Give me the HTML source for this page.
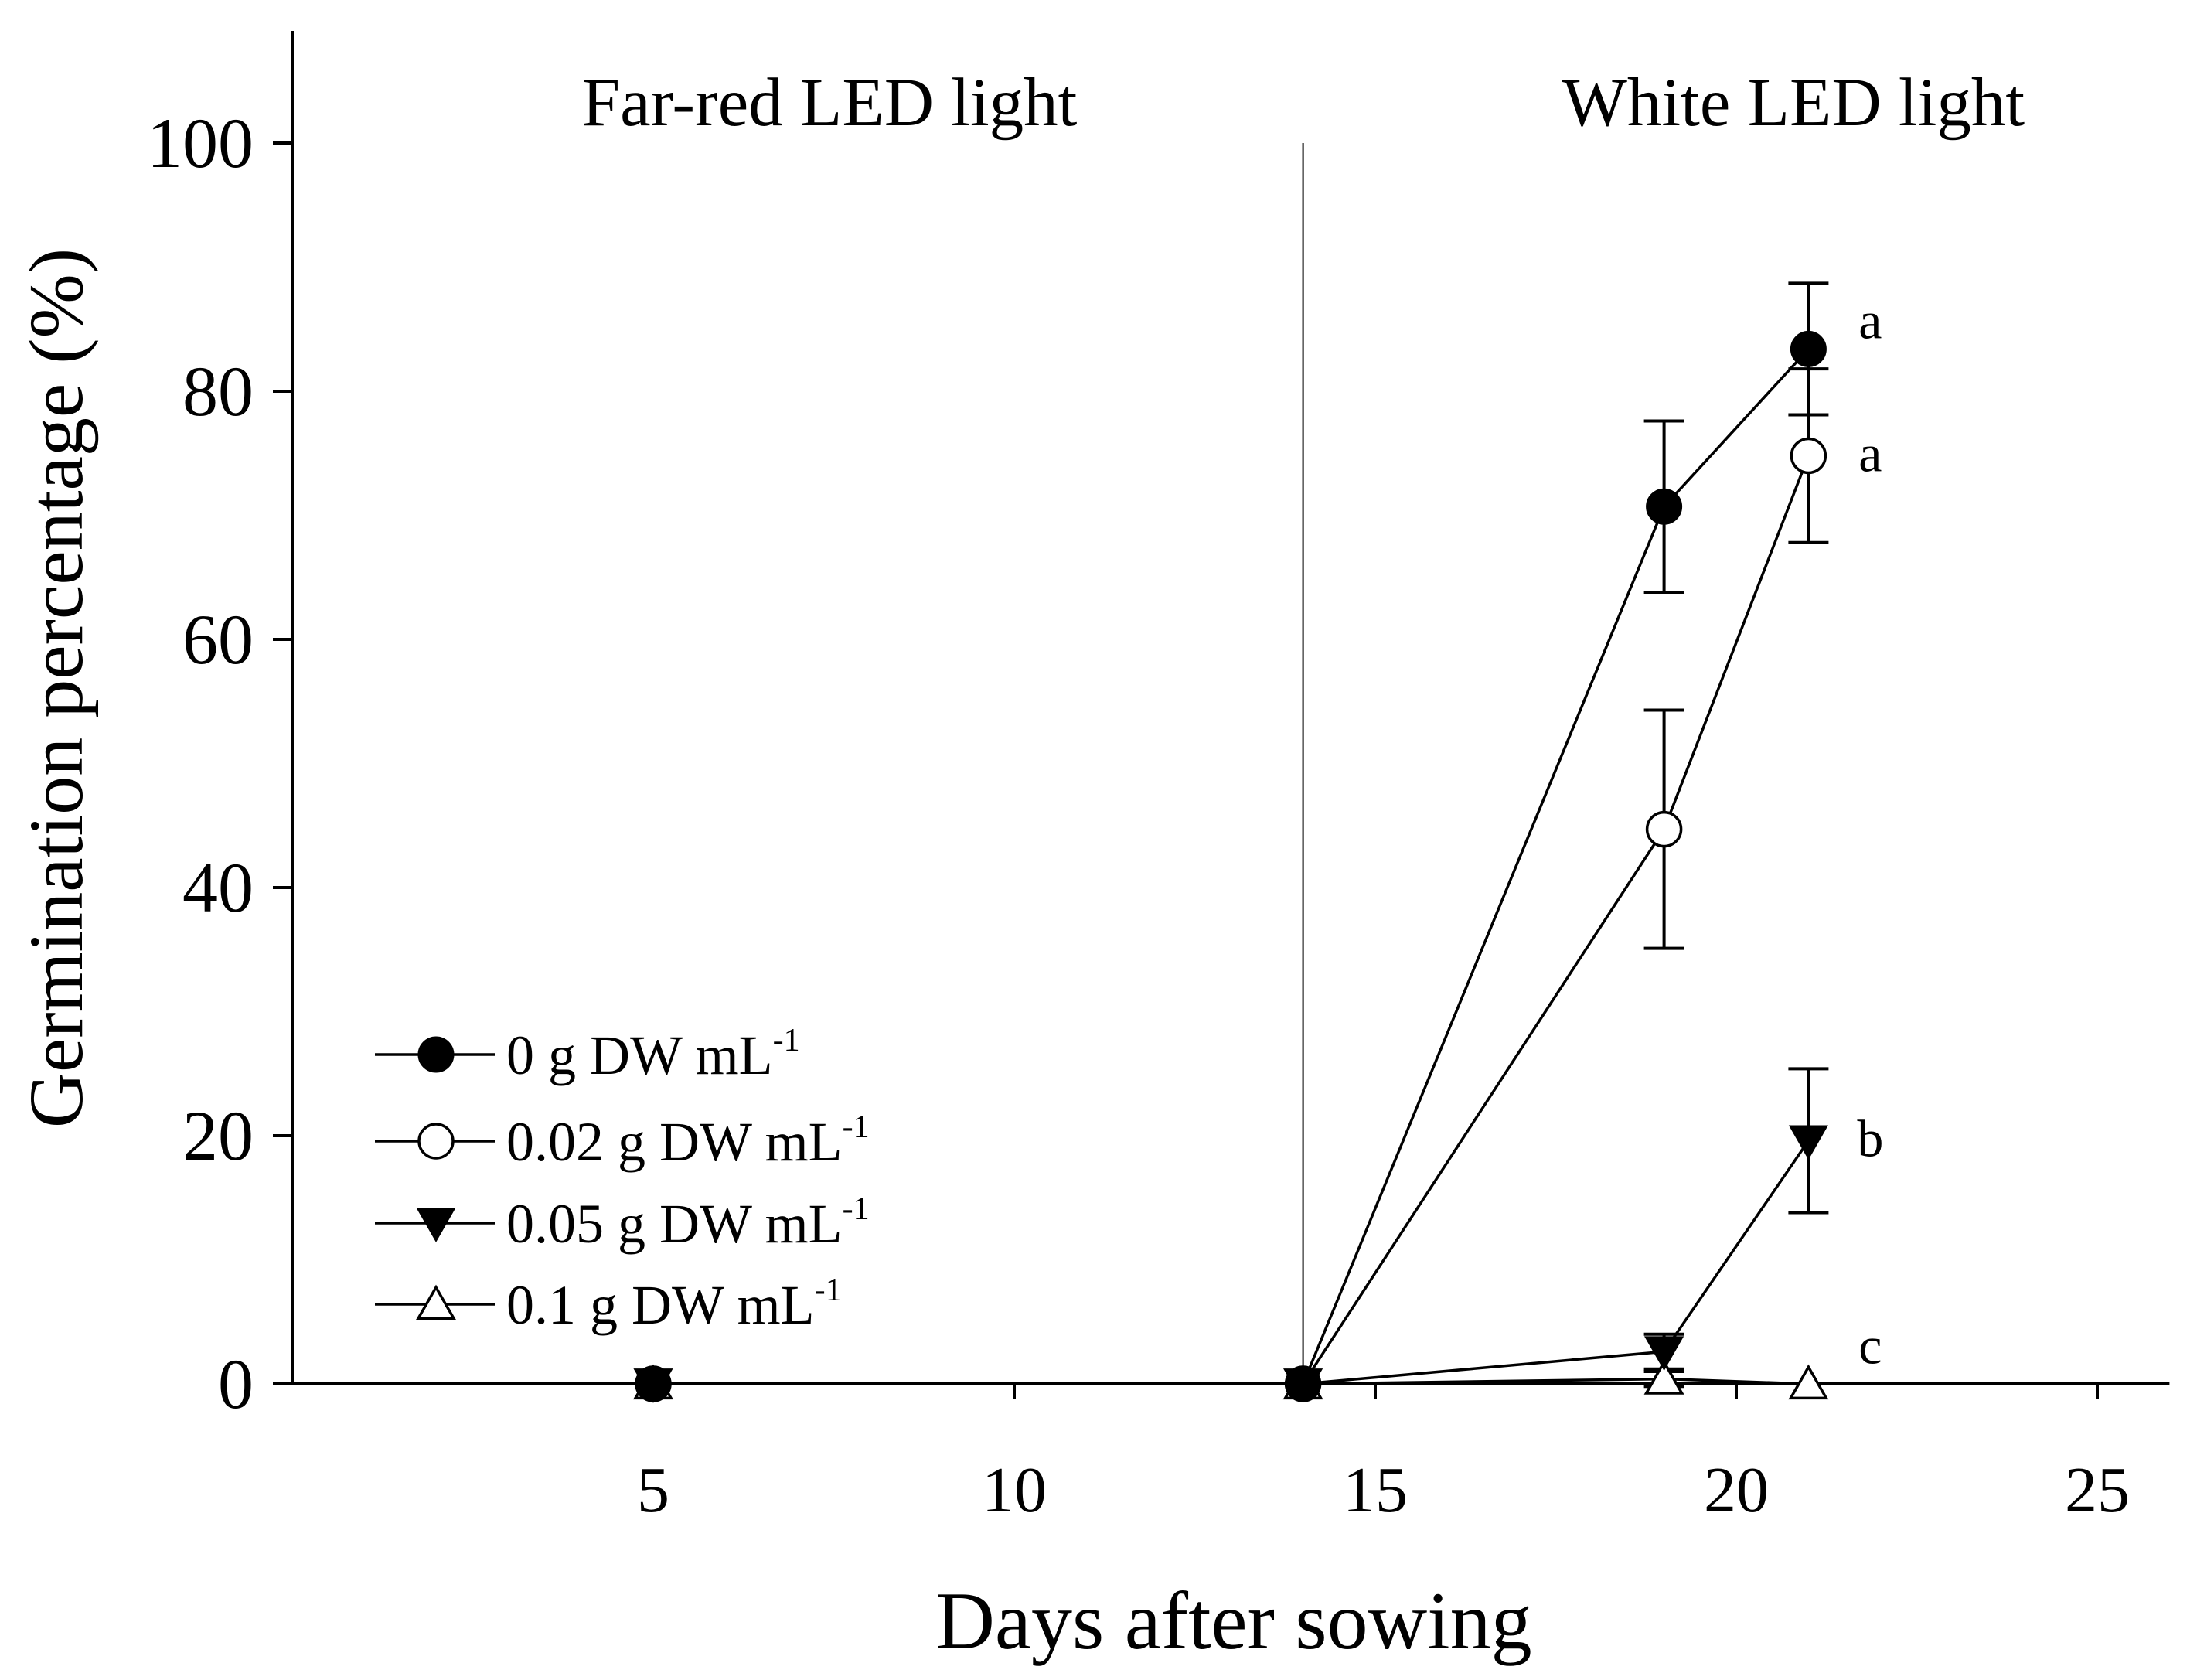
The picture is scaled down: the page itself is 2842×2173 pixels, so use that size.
<!DOCTYPE html>
<html><head><meta charset="utf-8"><style>
html,body{margin:0;padding:0;background:#fff}
svg{display:block}
text{font-family:"Liberation Serif",serif;fill:#000}
</style></head><body>
<svg id="chart" width="2842" height="2173" viewBox="0 0 2842 2173" xmlns="http://www.w3.org/2000/svg">
<g id="axes"></g>
<g id="marks"></g>
<g id="legend"></g>
</svg>
<script>
const days = [5, 14, 19, 21];
const seriesNames = ["0 g DW mL", "0.02 g DW mL", "0.05 g DW mL", "0.1 g DW mL"];
const seriesMarkers = ["filledCircle", "openCircle", "filledTriDown", "openTriUp"];
const s0 = [0, 0, 70.7, 83.4];
const s1 = [0, 0, 44.7, 74.8];
const s2 = [0, 0, 2.6, 19.6];
const s3 = [0, 0, 0.4, 0];
const e0 = [0, 0, 6.9, 5.3];
const e1 = [0, 0, 9.6, 7.0];
const e2 = [0, 0, 1.4, 5.8];
const e3 = [0, 0, 0.6, 0];
const xTicks = [5, 10, 15, 20, 25];
const yTicks = [0, 20, 40, 60, 80, 100];
const letters = ["a", "a", "b", "c"];
const letterVals = [85.5, 74.8, 19.6, 2.9];

const X0 = 378, XU = 93.4, Y0 = 1790, YU = 16.05;
const xs = d => X0 + d * XU;
const ys = v => Y0 - v * YU;
const NS = "http://www.w3.org/2000/svg";
function mk(parent, tag, attrs, txt) {
  const e = document.createElementNS(NS, tag);
  for (const k in attrs) e.setAttribute(k, attrs[k]);
  if (txt !== undefined) e.textContent = txt;
  parent.appendChild(e);
  return e;
}
const axes = document.getElementById('axes');
const marks = document.getElementById('marks');
const legend = document.getElementById('legend');

let el;
el = mk(axes, 'line', {x1: X0, y1: 40, x2: X0, y2: Y0 + 2, stroke: '#000', 'stroke-width': 4});


el = mk(axes, 'line', {x1: X0 - 25, y1: Y0, x2: xs(26), y2: Y0, stroke: '#000', 'stroke-width': 4});


el = mk(axes, 'line', {x1: xs(14), y1: ys(100), x2: xs(14), y2: Y0, stroke: '#000', 'stroke-width': 2});



yTicks.forEach(t => {
  el = mk(axes, 'line', {x1: X0 - 25, y1: ys(t), x2: X0, y2: ys(t), stroke: '#000', 'stroke-width': 4});
  
  
  el = mk(axes, 'text', {x: X0 - 50, y: ys(t) + 31, 'text-anchor': 'end', 'font-size': 92}, String(t));
  
  
});
xTicks.forEach(t => {
  el = mk(axes, 'line', {x1: xs(t), y1: Y0, x2: xs(t), y2: Y0 + 20, stroke: '#000', 'stroke-width': 4});
  
  
  el = mk(axes, 'text', {x: xs(t), y: 1955, 'text-anchor': 'middle', 'font-size': 84}, String(t));
  
  
});
el = mk(axes, 'text', {x: 1596, y: 2132, 'text-anchor': 'middle', 'font-size': 106}, 'Days after sowing');


el = mk(axes, 'text', {x: 0, y: 0, 'text-anchor': 'middle', 'font-size': 100, transform: 'translate(106,890) rotate(-90)'}, 'Germination percentage (%)');


el = mk(axes, 'text', {x: 1073, y: 162, 'text-anchor': 'middle', 'font-size': 89}, 'Far-red LED light');


el = mk(axes, 'text', {x: 2320, y: 162, 'text-anchor': 'middle', 'font-size': 89}, 'White LED light');



function marker(parent, type, cx, cy) {
  const r = 22, t = 23;
  if (type === 'filledCircle') return mk(parent, 'circle', {cx, cy, r, fill: '#000', stroke: '#000', 'stroke-width': 3});
  if (type === 'openCircle') return mk(parent, 'circle', {cx, cy, r, fill: '#fff', stroke: '#000', 'stroke-width': 3.5});
  if (type === 'filledTriDown') return mk(parent, 'polygon', {points: `${cx-t},${cy-t*0.8} ${cx+t},${cy-t*0.8} ${cx},${cy+t*0.95}`, fill: '#000', stroke: '#000', 'stroke-width': 3});
  return mk(parent, 'polygon', {points: `${cx-t},${cy+t*0.8} ${cx+t},${cy+t*0.8} ${cx},${cy-t*0.95}`, fill: '#fff', stroke: '#000', 'stroke-width': 3.5});
}

const vals = [s0, s1, s2, s3];
const errs = [e0, e1, e2, e3];
vals.forEach((vs, si) => {
  const pts = vs.map((v, i) => xs(days[i]) + ',' + ys(v)).join(' ');
  el = mk(marks, 'polyline', {points: pts, fill: 'none', stroke: '#000', 'stroke-width': 3.5});
  
  
});
vals.forEach((vs, si) => {
  vs.forEach((v, i) => {
    const e = errs[si][i];
    if (e > 0) {
      const x = xs(days[i]);
      el = mk(marks, 'path', {d: `M${x},${ys(v+e)}V${ys(v-e)}M${x-26},${ys(v+e)}H${x+26}M${x-26},${ys(v-e)}H${x+26}`, stroke: '#000', 'stroke-width': 4, fill: 'none'});
      
      
    }
  });
});
for (let si = vals.length - 1; si >= 0; si--) {
  vals[si].forEach((v, i) => {
    el = marker(marks, seriesMarkers[si], xs(days[i]), ys(v));
    
    
  });
}
letters.forEach((l, i) => {
  el = mk(marks, 'text', {x: xs(21) + 80, y: ys(letterVals[i]) + 20, 'text-anchor': 'middle', 'font-size': 68}, l);
  
  
});

const legY = [1364, 1476, 1582, 1687];
seriesNames.forEach((n, i) => {
  const g = mk(legend, 'g', {});
  
  
  mk(g, 'line', {x1: 485, y1: legY[i], x2: 640, y2: legY[i], stroke: '#000', 'stroke-width': 3.5});
  marker(g, seriesMarkers[i], 564, legY[i]);
  const t = mk(g, 'text', {x: 655, y: legY[i] + 25, 'font-size': 72}, n);
  mk(t, 'tspan', {dy: -30, 'font-size': 42}, '-1');
});
</script>
</body></html>
